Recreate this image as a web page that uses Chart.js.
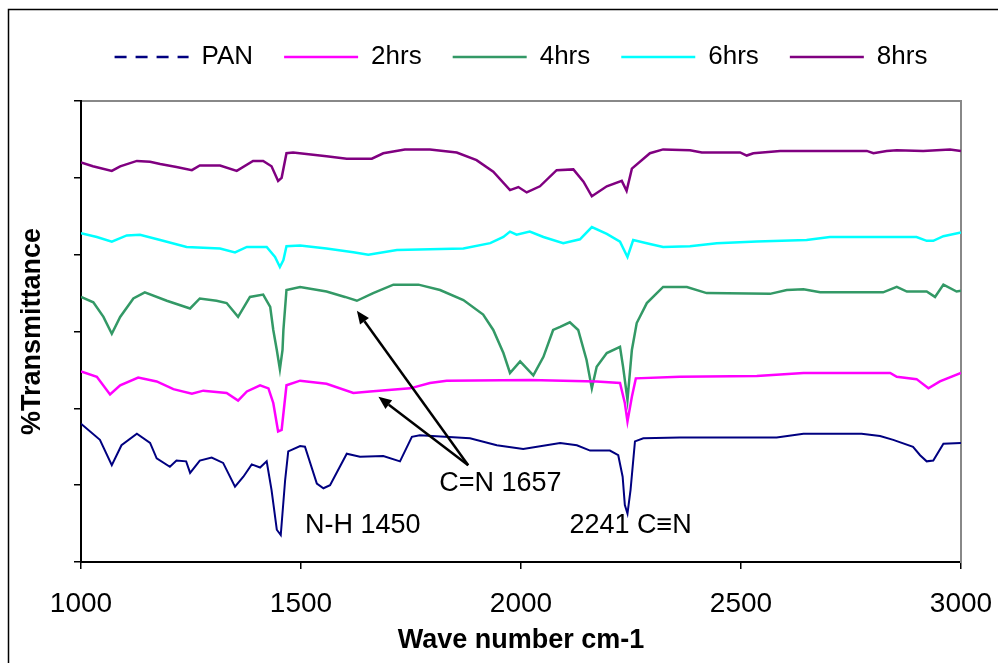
<!DOCTYPE html>
<html>
<head>
<meta charset="utf-8">
<script src="https://cdn.jsdelivr.net/npm/chart.js@4.4.1/dist/chart.umd.min.js"></script>
<style>
  html, body { margin: 0; padding: 0; background: #fff; overflow: hidden; }
  #wrap { width: 998px; height: 663px; }
</style>
</head>
<body>
<div id="wrap"><canvas id="canvas" width="998" height="663"></canvas></div>
<script>
const FONT = "'Liberation Sans', Arial, sans-serif";

// series names and colours
const seriesNames = ['PAN', '2hrs', '4hrs', '6hrs', '8hrs'];
const seriesColors = ['#000080', '#ff00ff', '#339966', '#00ffff', '#800080'];
const legendDash = [[12, 9], [], [], [], []];

// PAN
const panWn = [1000,1043,1070,1092,1127,1157,1172,1202,1217,1239,1248,1270,1297,1323,1350,1369,1388,1407,1422,1433,
  1445,1454,1464,1471,1498,1509,1536,1551,1566,1604,1634,1687,1725,1752,1770,1884,1945,2005,2089,2127,
  2157,2202,2221,2231,2236,2242,2249,2259,2278,2361,2581,2642,2774,2816,2846,2891,2907,2922,2937,2960,3000];
const panT = [18.0,15.9,12.6,15.2,16.7,15.5,13.5,12.4,13.2,13.1,11.6,13.2,13.6,12.9,9.8,11.1,12.7,12.3,13.1,9.4,
  4.2,3.5,10.7,14.4,15.1,15.0,10.2,9.6,10.0,14.1,13.7,13.8,13.1,16.3,16.5,16.1,15.2,14.7,15.5,15.2,
  14.5,14.5,13.9,11.1,7.4,6.3,9.4,15.7,16.1,16.2,16.2,16.7,16.7,16.4,15.9,15.0,13.9,13.1,13.2,15.4,15.5];

// 2 hrs
const h2Wn = [1000,1036,1066,1089,1130,1172,1210,1252,1278,1331,1357,1377,1407,1426,1437,1448,1456,1467,1498,1558,
  1619,1657,1748,1793,1831,2020,2172,2225,2236,2242,2252,2261,2361,2536,2642,2839,2854,2899,2926,2952,3000];
const h2T = [24.8,24.1,21.8,23.0,24.0,23.5,22.5,21.9,22.3,22.0,21.0,22.2,23.0,22.6,20.7,17.0,17.2,23.0,23.6,23.2,
  22.0,22.2,22.6,23.3,23.6,23.7,23.5,23.3,20.7,18.3,21.5,23.9,24.1,24.2,24.6,24.6,24.1,23.8,22.6,23.5,24.6];

// 4 hrs
const h4Wn = [1000,1028,1051,1070,1089,1119,1145,1195,1248,1270,1308,1331,1357,1384,1414,1430,1437,1445,1452,1458,
  1460,1467,1498,1558,1600,1627,1664,1710,1767,1816,1869,1914,1937,1960,1975,1998,2028,2051,2073,2089,
  2111,2130,2149,2161,2172,2195,2225,2232,2242,2252,2263,2286,2323,2377,2422,2566,2604,2642,2680,2823,
  2854,2877,2922,2941,2960,2990,3000];
const h4T = [34.5,33.8,31.9,29.7,31.9,34.3,35.1,34.0,33.0,34.3,34.0,33.7,31.9,34.5,34.8,33.2,30.2,27.6,25.1,27.6,
  30.2,35.4,35.8,35.2,34.5,34.0,35.0,36.1,36.1,35.4,34.1,32.2,30.2,27.2,24.6,26.1,24.3,26.7,30.2,30.6,
  31.2,30.2,26.3,22.6,25.4,27.2,28.0,25.4,21.1,27.6,31.1,33.7,35.8,35.8,35.0,34.9,35.4,35.5,35.1,35.1,
  35.8,35.2,35.2,34.5,36.1,35.2,35.3];

// 6 hrs
const h6Wn = [1000,1036,1070,1104,1134,1180,1240,1316,1350,1377,1422,1441,1452,1460,1467,1498,1558,1619,1653,1718,
  1869,1930,1960,1975,1990,2020,2051,2096,2134,2161,2195,2225,2242,2255,2293,2323,2384,2445,2536,2649,
  2702,2899,2922,2937,2960,3000];
const h6T = [42.8,42.3,41.7,42.5,42.6,41.9,41.0,40.8,40.3,41.0,41.0,39.7,38.4,39.3,41.1,41.2,40.8,40.3,40.0,40.6,
  40.8,41.5,42.3,43.0,42.6,43.0,42.3,41.5,42.0,43.6,42.7,41.7,39.7,41.9,41.4,41.0,41.1,41.5,41.7,41.9,
  42.3,42.3,41.8,41.8,42.4,42.9];

// 8 hrs
const h8Wn = [1000,1027,1070,1089,1127,1157,1180,1217,1252,1270,1316,1354,1391,1414,1433,1448,1456,1467,1482,1558,
  1604,1661,1687,1736,1793,1854,1899,1937,1975,1994,2013,2043,2081,2119,2142,2161,2195,2229,2240,2252,
  2293,2323,2384,2411,2498,2513,2528,2589,2786,2801,2831,2854,2914,2975,3000];
const h8T = [52.0,51.5,50.9,51.5,52.2,52.1,51.8,51.4,51.0,51.6,51.6,50.9,52.2,52.2,51.5,49.6,50.0,53.2,53.3,52.8,
  52.5,52.5,53.2,53.7,53.7,53.3,52.3,50.8,48.4,48.8,48.1,48.9,51.0,51.1,49.5,47.6,48.9,49.6,48.3,51.2,
  53.2,53.7,53.6,53.3,53.3,52.9,53.2,53.5,53.5,53.2,53.5,53.6,53.5,53.7,53.5];

const xTicks = [1000, 1500, 2000, 2500, 3000];

// peak labels and arrows, in data units (wave number, transmittance)
const notes = [
  { text: 'N-H 1450', wn: 1509, t: 4.8 },
  { text: 'C=N 1657', wn: 1814, t: 10.2 },
  { text: '2241 C\u2261N', wn: 2110, t: 4.8 }
];
const arrowTail = { wn: 1880, t: 12.6 };
const arrowTips = [{ wn: 1627, t: 32.7 }, { wn: 1676, t: 21.5 }];

const wns = [panWn, h2Wn, h4Wn, h6Wn, h8Wn];
const ts = [panT, h2T, h4T, h6T, h8T];

const datasets = seriesNames.map((name, i) => ({
  label: name,
  data: wns[i].map((w, j) => ({ x: w, y: ts[i][j] })),
  borderColor: seriesColors[i],
  backgroundColor: seriesColors[i],
  borderWidth: i === 0 ? 2 : 2.5,
  pointRadius: 0,
  tension: 0,
  fill: false
}));

function arrow(ctx, x0, y0, x1, y1) {
  const a = Math.atan2(y1 - y0, x1 - x0);
  const len = 13, half = 5.5;
  const bx = x1 - len * Math.cos(a), by = y1 - len * Math.sin(a);
  ctx.beginPath();
  ctx.moveTo(x0, y0);
  ctx.lineTo(bx, by);
  ctx.stroke();
  ctx.beginPath();
  ctx.moveTo(x1, y1);
  ctx.lineTo(bx + half * Math.sin(a), by - half * Math.cos(a));
  ctx.lineTo(bx - half * Math.sin(a), by + half * Math.cos(a));
  ctx.closePath();
  ctx.fill();
}

const frame = {
  id: 'frame',
  beforeDraw(chart) {
    const c = chart.ctx;
    c.save();
    c.strokeStyle = '#000';
    c.lineWidth = 1.5;
    c.beginPath();
    c.moveTo(8.5, chart.height);
    c.lineTo(8.5, 9.5);
    c.lineTo(chart.width, 9.5);
    c.stroke();
    c.restore();
  }
};

const peakNotes = {
  id: 'peakNotes',
  afterDatasetsDraw(chart) {
    const c = chart.ctx;
    const x = chart.scales.x, y = chart.scales.y;
    c.save();
    c.fillStyle = '#000';
    c.strokeStyle = '#000';
    c.lineWidth = 2.5;
    c.font = '27px ' + FONT;
    c.textAlign = 'left';
    c.textBaseline = 'middle';
    notes.forEach(n => c.fillText(n.text, x.getPixelForValue(n.wn), y.getPixelForValue(n.t)));
    const tx = x.getPixelForValue(arrowTail.wn), ty = y.getPixelForValue(arrowTail.t);
    arrowTips.forEach(p => arrow(c, tx, ty, x.getPixelForValue(p.wn), y.getPixelForValue(p.t)));
    c.restore();
  }
};

const canvas = document.getElementById('canvas');
const chart = new Chart(canvas.getContext('2d'), {
  type: 'line',
  data: { datasets },
  options: {
    responsive: false,
    animation: false,
    devicePixelRatio: 1,
    layout: { padding: { top: 13, left: 0, right: 0, bottom: 0 } },
    plugins: {
      tooltip: { enabled: false },
      legend: {
        position: 'top',
        fullSize: false,
        labels: {
          color: '#000',
          font: { family: FONT, size: 26 },
          usePointStyle: true,
          pointStyle: 'line',
          pointStyleWidth: 74,
          padding: 31,
          generateLabels(ch) {
            const items = Chart.defaults.plugins.legend.labels.generateLabels(ch);
            items.forEach((it, i) => { it.lineDash = legendDash[i]; it.lineWidth = 2.5; });
            return items;
          }
        }
      }
    },
    scales: {
      x: {
        type: 'linear',
        axis: 'x',
        position: 'bottom',
        min: 1000,
        max: 3000,
        afterBuildTicks: s => { s.ticks = xTicks.map(v => ({ value: v })); },
        ticks: {
          color: '#000',
          font: { family: FONT, size: 28, lineHeight: 1 },
          padding: 21,
          maxRotation: 0,
          callback: v => String(v)
        },
        grid: { drawOnChartArea: false, drawTicks: true, tickLength: 7, color: '#000', lineWidth: 1.5 },
        border: { color: '#000', width: 2 },
        title: {
          display: true,
          text: 'Wave number cm-1',
          color: '#000',
          font: { family: FONT, size: 27, weight: 'bold', lineHeight: 1 },
          padding: { top: 0, bottom: 9 }
        },
        afterFit: s => { s.height = 101; s.paddingLeft = 0; s.paddingRight = 0; }
      },
      xTop: {
        type: 'linear',
        axis: 'x',
        position: 'top',
        min: 1000,
        max: 3000,
        ticks: { display: false },
        grid: { display: false },
        border: { color: '#888', width: 2 },
        afterFit: s => { s.height = 21; s.paddingLeft = 0; s.paddingRight = 0; }
      },
      y: {
        type: 'linear',
        axis: 'y',
        position: 'left',
        min: 0,
        max: 60,
        ticks: { stepSize: 10, display: false },
        grid: { drawOnChartArea: false, drawTicks: true, tickLength: 7, color: '#000', lineWidth: 1.5 },
        border: { color: '#000', width: 2 },
        title: {
          display: true,
          text: '%Transmittance',
          color: '#000',
          font: { family: FONT, size: 27, weight: 'bold', lineHeight: 1 },
          padding: { top: 19, bottom: 0 }
        },
        afterFit: s => { s.width = 81; s.paddingTop = 0; s.paddingBottom = 0; }
      },
      yRight: {
        type: 'linear',
        axis: 'y',
        position: 'right',
        min: 0,
        max: 60,
        ticks: { display: false },
        grid: { display: false },
        border: { color: '#888', width: 2 },
        afterFit: s => { s.width = 37; s.paddingTop = 0; s.paddingBottom = 0; }
      }
    }
  },
  plugins: [frame, peakNotes]
});
</script>
</body>
</html>
